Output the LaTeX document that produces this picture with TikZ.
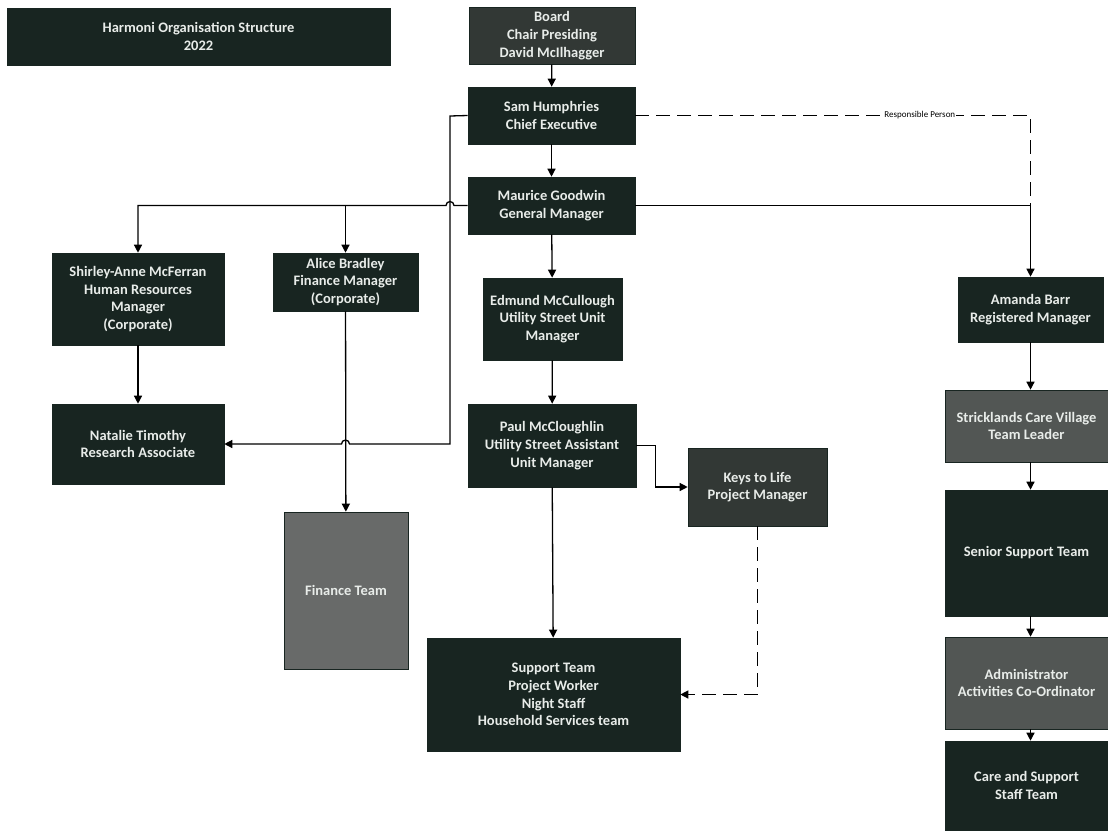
\documentclass[tikz,border=0pt]{standalone}
\usepackage{fontspec}
\setmainfont{Carlito}
\usepackage{tikz}
\usetikzlibrary{arrows.meta,calc}
\definecolor{boxdark}{RGB}{24, 37, 33}
\definecolor{boxspeck}{RGB}{50, 56, 53}
\definecolor{boxgrey}{RGB}{82, 86, 84}
\definecolor{boxnoise}{RGB}{104, 106, 105}
\definecolor{boxtext}{RGB}{232, 236, 233}

\tikzset{
  orgbox/.style = {
    draw        = boxdark,
    fill        = boxdark,
    text        = boxtext,
    line width  = 0.6pt,
    inner sep   = 2pt,
    align       = center,
    font        = \fontsize{14.5}{17.7}\selectfont\bfseries
  },
  link/.style = {
    line width  = 1.3pt,
    -{Triangle[length=8pt,width=8pt]}
  },
  dashlink/.style = {
    link,
    dash pattern = on 14pt off 7pt
  }
}

\begin{document}
\begin{tikzpicture}[x=1pt, y=-1pt]
  \useasboundingbox (0,0) rectangle (1108,830);

  % title
  \node[orgbox, minimum width=383pt, minimum height=57pt] (title) at (198.5,36.5)
    {Harmoni Organisation Structure\\2022};

  % centre column
  \node[orgbox, fill=boxspeck, minimum width=166pt, minimum height=57pt] (board) at (552,35.5)
    {Board\\Chair Presiding\\David McIlhagger};
  \node[orgbox, minimum width=167pt, minimum height=57pt] (sam) at (551.5,115.5)
    {Sam Humphries\\Chief Executive};
  \node[orgbox, minimum width=167pt, minimum height=57pt] (maurice) at (551.5,205.5)
    {Maurice Goodwin\\General Manager};
  \node[orgbox, minimum width=139pt, minimum height=82pt] (edmund) at (552.5,319)
    {Edmund McCullough\\Utility Street Unit\\Manager};
  \node[orgbox, minimum width=168pt, minimum height=83pt] (paul) at (552,445.5)
    {Paul McCloughlin\\Utility Street Assistant\\Unit Manager};
  \node[orgbox, fill=boxspeck, minimum width=139pt, minimum height=78pt] (keys) at (757.5,487)
    {Keys to Life\\Project Manager};
  \node[orgbox, minimum width=253pt, minimum height=113pt] (support) at (553.5,694.5)
    {Support Team\\Project Worker\\Night Staff\\Household Services team};

  % corporate column
  \node[orgbox, minimum width=172pt, minimum height=92pt] (shirley) at (138,299)
    {Shirley-Anne McFerran\\Human Resources\\Manager\\(Corporate)};
  \node[orgbox, minimum width=145pt, minimum height=58pt] (alice) at (345.5,282)
    {Alice Bradley\\Finance Manager\\(Corporate)};
  \node[orgbox, minimum width=172pt, minimum height=80pt] (natalie) at (138,444)
    {Natalie Timothy\\Research Associate};
  \node[orgbox, fill=boxnoise, minimum width=124pt, minimum height=157pt] (finance) at (346,590.5)
    {Finance Team};

  % care village column
  \node[orgbox, minimum width=145pt, minimum height=65pt] (amanda) at (1030.5,309.5)
    {Amanda Barr\\Registered Manager};
  \node[orgbox, fill=boxgrey, minimum width=163pt, minimum height=72pt] (strick) at (1026.5,426)
    {Stricklands Care Village\\Team Leader};
  \node[orgbox, minimum width=163pt, minimum height=126pt] (senior) at (1026.5,553)
    {Senior Support Team};
  \node[orgbox, fill=boxgrey, minimum width=163pt, minimum height=92pt] (admin) at (1026.5,683)
    {Administrator\\Activities Co-Ordinator};
  \node[orgbox, minimum width=163pt, minimum height=89pt] (care) at (1026.5,785.5)
    {Care and Support\\Staff Team};

  \coordinate (stem) at (450,116);
  \coordinate (fork) at (alice.north |- maurice.west);

  % reporting lines
  \draw[link] (board) -- (sam);
  \draw[link] (sam) -- (maurice);
  \draw[link] (maurice) -- (edmund);
  \draw[link] (edmund) -- (paul);
  \draw[link] (paul) -- (support);
  \draw[link] (maurice.west) -- ($(stem |- maurice.west)+(4,0)$)
    arc[start angle=0, end angle=180, radius=4pt] -| (shirley.north);
  \draw[link] (fork) -- (alice);
  \draw[link] (shirley) -- (natalie);
  \draw[link] (alice) -- (finance);
  \draw[link] (sam.west) -- (stem) -- (stem |- natalie.east)
    -- ($(alice.south |- natalie.east)+(4,0)$)
    arc[start angle=0, end angle=180, radius=4pt] -- (natalie.east);
  \draw[link] (paul.east) -- ++(19,0) |- (keys.west);
  \draw[dashlink] (keys.south) |- (support.east);
  \draw[dashlink, -] (sam.east) -| (amanda.north |- maurice.east)
    node[pos=0.36, fill=white, inner sep=1pt, text=black,
         font=\fontsize{9}{10}\selectfont] {Responsible Person};
  \draw[link] (maurice.east) -| (amanda.north);
  \foreach \a/\b in {amanda/strick, strick/senior, senior/admin, admin/care}
    \draw[link] (\a.south -| amanda.south) -- (\b.north -| amanda.south);
\end{tikzpicture}
\end{document}
